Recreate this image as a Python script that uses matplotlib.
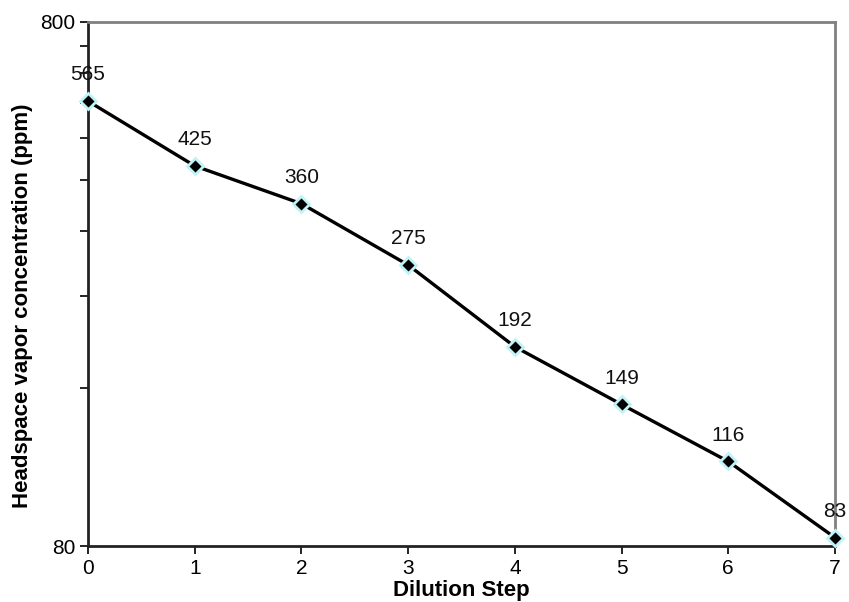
import matplotlib
matplotlib.use("Agg")
import matplotlib.pyplot as plt
from matplotlib.ticker import FixedLocator, NullFormatter

plt.rcParams['font.family'] = ['Liberation Sans', 'DejaVu Sans']

steps = [0, 1, 2, 3, 4, 5, 6, 7]
conc = [565, 425, 360, 275, 192, 149, 116, 83]
labels = ["565", "425", "360", "275", "192", "149", "116", "83"]
y_major = [80, 800]
y_minor = [160, 240, 320, 400, 480, 560, 640, 720]

fig = plt.figure(figsize=(8.49, 6.02), dpi=100)
ax = fig.add_axes([0.1037, 0.093, 0.8798, 0.8705])

ax.plot(steps, conc, color='black', lw=2.4, marker='D', markersize=8,
        markerfacecolor='black', markeredgecolor='#c0f2f6', markeredgewidth=2,
        clip_on=False, zorder=3)

for x, y, t in zip(steps, conc, labels):
    ax.annotate(t, (x, y), xytext=(0, 12), textcoords='offset points',
                ha='center', va='bottom', fontsize=15, color='#111111')

ax.set_yscale('log')
ax.set_ylim(80, 800)
ax.set_xlim(0, 7)
ax.yaxis.set_major_locator(FixedLocator(y_major))
ax.yaxis.set_minor_locator(FixedLocator(y_minor))
ax.yaxis.set_minor_formatter(NullFormatter())
ax.set_yticklabels([str(v) for v in y_major])
ax.set_xticks(steps)

ax.tick_params(axis='both', which='major', direction='out', length=6, width=1.2,
               labelsize=15, colors='black', pad=3)
ax.tick_params(axis='y', which='minor', direction='out', length=6, width=1.2)

for s in ['left', 'bottom']:
    ax.spines[s].set_color('#222222')
    ax.spines[s].set_linewidth(2)
for s in ['top', 'right']:
    ax.spines[s].set_color('#808080')
    ax.spines[s].set_linewidth(2)

ax.set_xlabel('Dilution Step', fontsize=16, fontweight='bold', labelpad=2)
ax.set_ylabel('Headspace vapor concentration (ppm)', fontsize=16, fontweight='bold')
ax.yaxis.set_label_coords(-0.074, 0.458)

fig.savefig('out.png', dpi=100)
